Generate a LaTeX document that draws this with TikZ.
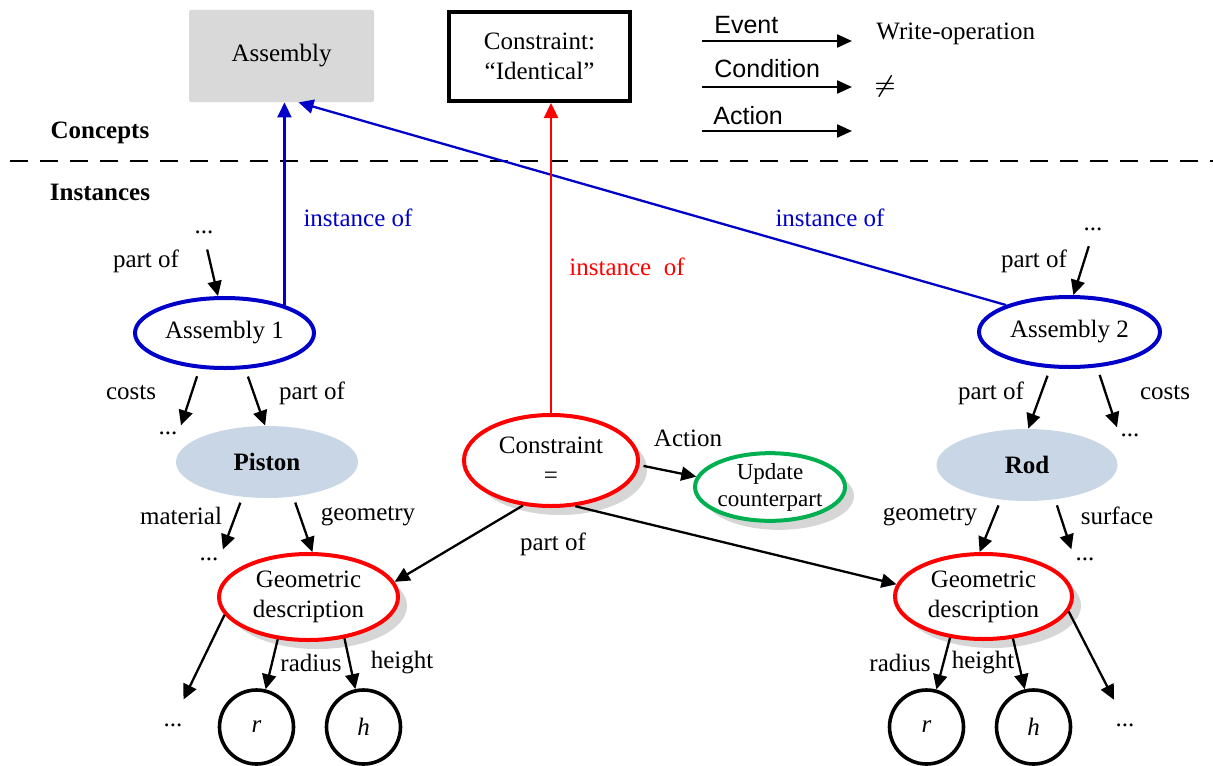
\documentclass[tikz,border=0pt]{standalone}
\usepackage{fontspec}
\setmainfont{Liberation Serif}
\setsansfont{Liberation Sans}
\usetikzlibrary{arrows.meta,shapes.geometric,shadows}
\definecolor{linkblue}{RGB}{0,0,200}
\definecolor{cred}{RGB}{255,0,0}
\definecolor{cgreen}{RGB}{0,176,80}
\definecolor{boxgray}{RGB}{217,217,217}
\definecolor{partfill}{RGB}{200,214,230}
\begin{document}
\begin{tikzpicture}[x=0.5pt,y=-0.5pt,
  every node/.style={font=\fontsize{12.5}{15}\selectfont},
  arr/.style={-{Triangle[length=7.5pt,width=7pt]},line width=1.15pt},
  inst/.style={ellipse,draw=linkblue,line width=2pt,inner sep=0pt},
  part/.style={ellipse,fill=partfill,inner sep=0pt,font=\fontsize{12.5}{15}\selectfont\bfseries},
  sh/.style={drop shadow={shadow xshift=4.5pt,shadow yshift=-4.5pt,fill=black!16,opacity=1}},
  geo/.style={ellipse,draw=cred,line width=2pt,fill=white,inner sep=0pt,align=center,sh},
  val/.style={circle,draw,line width=1.8pt,minimum size=37pt,inner sep=0pt,font=\fontsize{12.5}{15}\selectfont\itshape},
  dots/.style={inner sep=1pt},
  legend/.style={font=\fontsize{12.5}{15}\selectfont\sffamily,anchor=base west,inner sep=0pt},
  sect/.style={font=\fontsize{12.5}{15}\selectfont\bfseries}
]
\useasboundingbox (0,0) rectangle (1213,765);

% concept level
\node[fill=boxgray,rounded corners=1pt,minimum width=92.5pt,minimum height=46pt,inner sep=0pt] (abox) at (281.5,56) {Assembly};
\node[draw,line width=2pt,minimum width=90.5pt,minimum height=44.5pt,inner sep=0pt,align=center] (cbox) at (539.5,56.5) {Constraint:\\``Identical''};

% legend
\coordinate (evA) at (702,41);  \coordinate (evB) at (852,41);
\coordinate (coA) at (702,87);  \coordinate (coB) at (852,87);
\coordinate (acA) at (702,131); \coordinate (acB) at (852,131);
\draw[arr,-{Triangle[length=7.5pt,width=6.5pt]}] (evA) -- (evB);
\draw[arr,-{Triangle[length=7.5pt,width=6.5pt]}] (coA) -- (coB);
\draw[arr,-{Triangle[length=7.5pt,width=6.5pt]}] (acA) -- (acB);
\node[legend] (evL) at (714,34) {Event};
\node[legend] (coL) at (714,77) {Condition};
\node[legend] (acL) at (713,125) {Action};
\node[anchor=base west,inner sep=0pt] (wop) at (876,40) {Write-operation};
\node[inner sep=0pt,font=\fontsize{12}{12}\selectfont\boldmath] (neq) at (885,86) {$\neq$};

% section separator
\node[sect] (conc) at (100,133) {Concepts};
\node[sect] (insts) at (100,192) {Instances};
\coordinate (sepA) at (10,161); \coordinate (sepB) at (1213,161);
\draw[line width=1.3pt,dash pattern=on 9pt off 6pt] (sepA) -- (sepB);

% instance level nodes
\node[inst,minimum width=89.5pt,minimum height=35pt] (a1) at (224.5,333) {Assembly 1};
\node[inst,minimum width=90.5pt,minimum height=35pt] (a2) at (1069.5,332) {Assembly 2};
\node[part,minimum width=91pt,minimum height=36pt] (piston) at (267,462) {Piston};
\node[part,minimum width=90.5pt,minimum height=36pt] (rod) at (1027,465) {Rod};
\node[geo,minimum width=89.5pt,minimum height=43pt] (gd1) at (308.5,597) {Geometric\\description};
\node[geo,minimum width=88.5pt,minimum height=42.5pt] (gd2) at (983.5,596.5) {Geometric\\description};
\node[geo,minimum width=87pt,minimum height=45.5pt] (ce) at (551,460.5) {Constraint\\=};
\node[ellipse,draw=cgreen,line width=2pt,fill=white,inner sep=0pt,align=center,sh,
      minimum width=75pt,minimum height=33pt,font=\fontsize{11.5}{13.5}\selectfont] (upd) at (770,487) {Update\\counterpart};
\node[val] (r1) at (256.5,727) {r};
\node[val] (h1) at (363.5,727) {h};
\node[val] (r2) at (926.5,727) {r};
\node[val] (h2) at (1033.5,727) {h};

% open ends
\node[dots] (dotsA) at (204,232) {...};
\node[dots] (dotsB) at (168,433) {...};
\node[dots] (dotsC) at (209,559) {...};
\node[dots] (dotsD) at (173,725) {...};
\node[dots] (dotsE) at (1093,229) {...};
\node[dots] (dotsF) at (1130,435) {...};
\node[dots] (dotsG) at (1085,559) {...};
\node[dots] (dotsH) at (1125,725) {...};

% instance-of links
\draw[arr,linkblue] (a1.25.6) -- (a1.25.6 |- abox.south);
\draw[arr,linkblue] (a2.157) -- ([xshift=8.5pt]abox.south);
\draw[arr,cred] (ce.north) -- (ce.north |- cbox.south);
\node[text=linkblue] (io1) at (358,218) {instance of};
\node[text=linkblue] (io2) at (830,218) {instance of};
\node[text=cred] (io3) at (627,267) {instance~~of};

% left structure
\draw[arr,shorten <=7pt] (dotsA.south) -- (a1.100);
\draw[arr,shorten <=4pt,shorten >=2pt] (a1.-125) -- (dotsB.north east);
\draw[arr,shorten <=4pt] (a1.-60) -- (piston.93);
\draw[arr,shorten <=3pt,shorten >=3pt] (piston.-125) -- (dotsC.north east);
\draw[arr,shorten <=3pt] (piston.-53) -- (gd1.85);
\draw[arr,shorten >=12pt] (gd1.-168) -- (dotsD.north);
\draw[arr] (gd1.-126) -- (r1);
\draw[arr] (gd1.-49) -- (h1);

% constraint links
\draw[arr,shorten <=2pt] (ce.-3) -- (upd.172);
\draw[arr] (ce.-122) -- (gd1.10);
\draw[arr] (ce.-62) -- (gd2.172);

% right structure
\draw[arr,shorten <=7pt] (dotsE.south) -- (a2.84);
\draw[arr,shorten <=4pt] (a2.-118) -- (rod.88);
\draw[arr,shorten <=4pt,shorten >=2pt] (a2.-52) -- (dotsF.north west);
\draw[arr,shorten <=3pt] (rod.-127) -- (gd2.95);
\draw[arr,shorten <=3pt,shorten >=3pt] (rod.-51) -- (dotsG.north west);
\draw[arr] (gd2.-129) -- (r2);
\draw[arr] (gd2.-55) -- (h2);
\draw[arr,shorten >=12pt] (gd2.-10) -- (dotsH.north);

% edge labels
\node (l1) at (146,261) {part of};
\node (l2) at (131,393) {costs};
\node (l3) at (312,393) {part of};
\node (l4) at (181,516) {material};
\node (l5) at (368,516) {geometry};
\node (l6) at (311,663) {radius};
\node (l7) at (402,663) {height};
\node (l8) at (1034,261) {part of};
\node (l9) at (991,393) {part of};
\node (l10) at (1165,393) {costs};
\node (l11) at (930,516) {geometry};
\node (l12) at (1117,516) {surface};
\node (l13) at (900,663) {radius};
\node (l14) at (983,663) {height};
\node (l15) at (688,438) {Action};
\node (l16) at (553,544) {part of};
\end{tikzpicture}
\end{document}
